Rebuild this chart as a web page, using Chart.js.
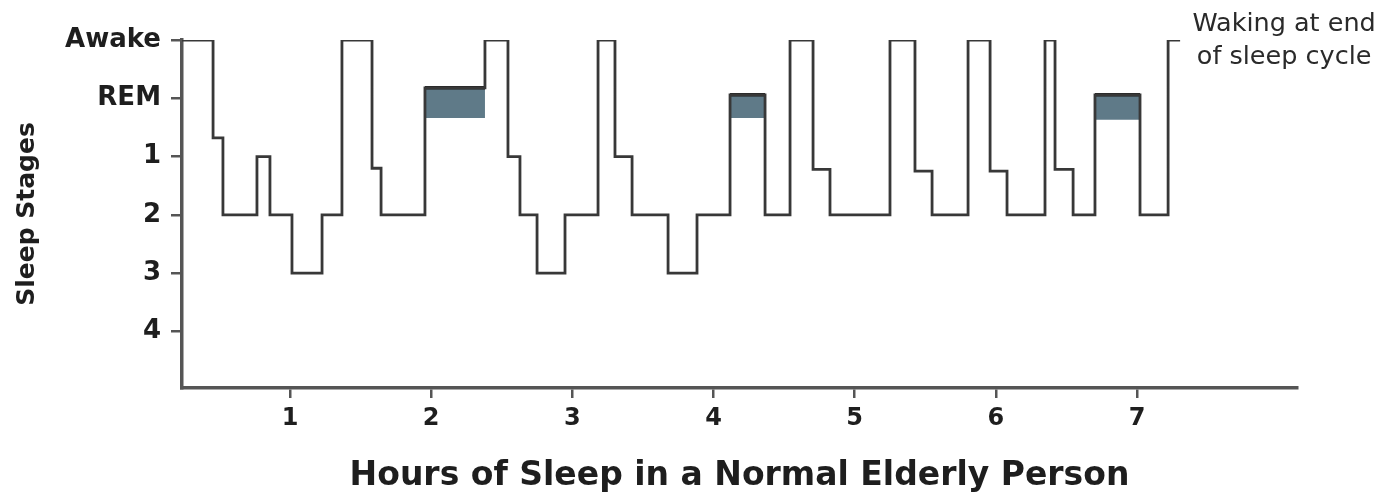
<!DOCTYPE html>
<html>
<head>
<meta charset="utf-8">
<script src="https://cdn.jsdelivr.net/npm/chart.js"></script>
<style>
  html, body { margin: 0; padding: 0; background: #fff; }
</style>
</head>
<body>
<canvas id="sleep-chart" width="1389" height="494"></canvas>
<script>
// y positions: 0 = Awake, 1 = REM, 2..5 = stages 1..4
const stageLabels = ['Awake', 'REM', '1', '2', '3', '4'];
const hourTicks = [1, 2, 3, 4, 5, 6, 7];

// hour where the level changes, and the level from that hour on
const stepHours = [0.235, 0.455, 0.525, 0.766, 0.858, 1.014, 1.227, 1.368, 1.581, 1.645,
                   1.956, 2.381, 2.544, 2.629, 2.750, 2.948, 3.182, 3.302, 3.423, 3.678,
                   3.883, 4.117, 4.365, 4.542, 4.705, 4.825, 5.250, 5.427, 5.548, 5.803,
                   5.959, 6.079, 6.348, 6.419, 6.547, 6.702, 7.021, 7.220, 7.305];
const stepStage = [0, 1.68, 3, 2, 3, 4, 3, 0, 2.2, 3,
                   0.82, 0, 2, 3, 4, 3, 0, 2, 3, 4,
                   3, 0.94, 3, 0, 2.22, 3, 0, 2.25, 3, 0,
                   2.25, 3, 0, 2.22, 3, 0.94, 3, 0, 0];

// shaded REM blocks
const remStart = [1.956, 4.117, 6.702];
const remEnd = [2.381, 4.365, 7.021];
const remTop = [0.82, 0.94, 0.94];
const remBottom = [1.34, 1.34, 1.37];

const noteLines = ['Waking at end', 'of sleep cycle'];

const textColor = '#1e1e1e';
const axisColor = '#555';
const fontFamily = '"DejaVu Sans", Verdana, sans-serif';

const datasets = [{
    data: stepHours.map((h, i) => ({ x: h, y: stepStage[i] })),
    stepped: 'before',
    borderColor: '#383838',
    borderWidth: 2.8,
    pointRadius: 0,
    fill: false,
    order: 0
}];

for (let i = 0; i < remStart.length; i++) {
    datasets.push({
        data: [{ x: remStart[i], y: remTop[i] }, { x: remEnd[i], y: remTop[i] }],
        borderColor: '#1e1e1e',
        borderWidth: 3.5,
        pointRadius: 0,
        fill: false,
        order: 1
    });
    datasets.push({
        data: [{ x: remStart[i], y: remBottom[i] }, { x: remEnd[i], y: remBottom[i] }],
        borderWidth: 0,
        pointRadius: 0,
        backgroundColor: '#5f7a88',
        fill: '-1',
        order: 2
    });
}

const notePlugin = {
    id: 'note',
    afterDraw(chart) {
        const ctx = chart.ctx;
        const x = chart.scales.x.getPixelForValue(stepHours[stepHours.length - 1]) + 104;
        const y = chart.scales.y.getPixelForValue(0);
        ctx.save();
        ctx.font = '25.5px ' + fontFamily;
        ctx.fillStyle = '#2a2a2a';
        ctx.textAlign = 'center';
        ctx.textBaseline = 'middle';
        ctx.fillText(noteLines[0], x, y - 16);
        ctx.fillText(noteLines[1], x, y + 17);
        ctx.restore();
    }
};

const ctx = document.getElementById('sleep-chart').getContext('2d');
new Chart(ctx, {
    type: 'line',
    data: { datasets: datasets },
    plugins: [notePlugin],
    options: {
        responsive: false,
        animation: false,
        layout: { padding: { top: 40, right: 92, bottom: 0, left: 0 } },
        plugins: {
            legend: { display: false },
            tooltip: { enabled: false }
        },
        scales: {
            x: {
                type: 'linear',
                min: 0.235,
                max: 8.133,
                afterBuildTicks: s => { s.ticks = hourTicks.map(v => ({ value: v })); },
                afterFit: s => { s.height = 106; },
                ticks: {
                    color: textColor,
                    padding: 6,
                    font: { family: fontFamily, size: 24, weight: 'bold' }
                },
                grid: { drawOnChartArea: false, tickLength: 10, color: axisColor, lineWidth: 2.5 },
                border: { display: true, color: axisColor, width: 3.5 },
                title: {
                    display: true,
                    text: 'Hours of Sleep in a Normal Elderly Person',
                    color: textColor,
                    font: { family: fontFamily, size: 33, weight: 'bold', lineHeight: 1 },
                    padding: { top: 0, bottom: 1 }
                }
            },
            y: {
                type: 'linear',
                reverse: true,
                min: 0,
                max: 5.97,
                afterBuildTicks: s => { s.ticks = stageLabels.map((_, i) => ({ value: i })); },
                afterFit: s => { s.width = 182; },
                ticks: {
                    color: textColor,
                    padding: 10,
                    font: { family: fontFamily, size: 26, weight: 'bold' },
                    callback: v => stageLabels[v]
                },
                grid: { drawOnChartArea: false, tickLength: 11, color: axisColor, lineWidth: 2.5 },
                border: { display: true, color: axisColor, width: 3.5 },
                title: {
                    display: true,
                    text: 'Sleep Stages',
                    color: textColor,
                    font: { family: fontFamily, size: 25, weight: 'bold', lineHeight: 1.2 },
                    padding: { top: 12, bottom: 0 }
                }
            }
        }
    }
});
</script>
</body>
</html>
